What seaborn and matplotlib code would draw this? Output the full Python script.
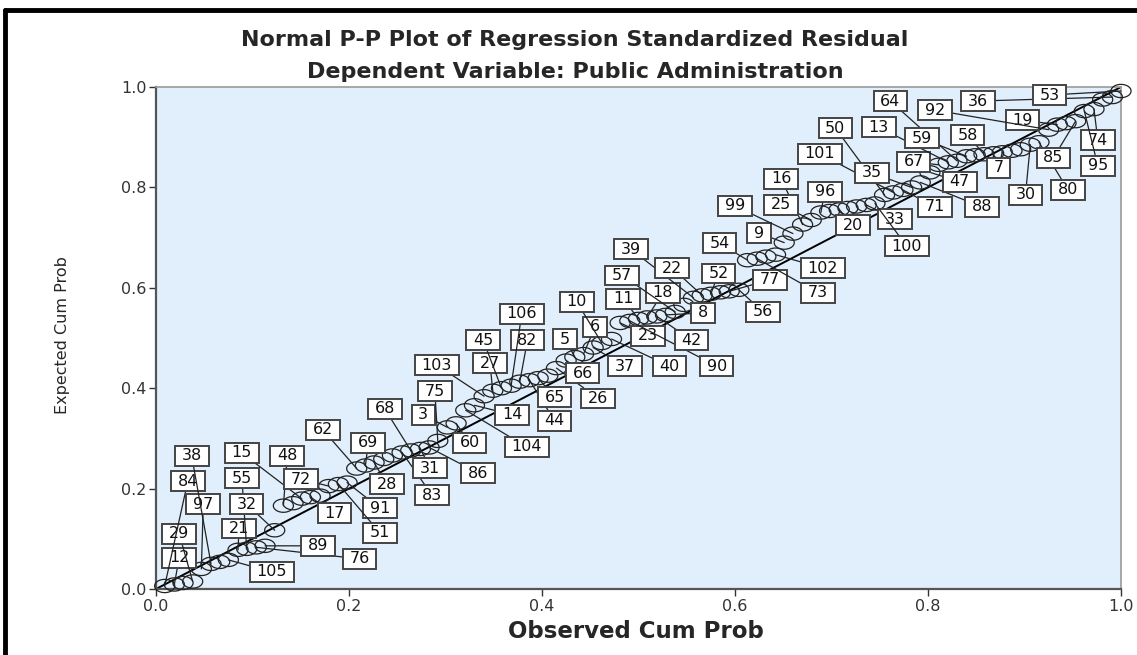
import matplotlib
matplotlib.use("Agg")
import matplotlib.pyplot as plt
import seaborn as sns
import numpy as np
from matplotlib.path import Path
from matplotlib.lines import Line2D

# observed / expected cumulative probabilities, one per case (sorted by rank)
observed = [0.009, 0.019, 0.028, 0.038, 0.047, 0.057, 0.066, 0.075, 0.085, 0.094,
            0.104, 0.113, 0.123, 0.132, 0.142, 0.151, 0.160, 0.170, 0.179, 0.189,
            0.198, 0.208, 0.217, 0.226, 0.236, 0.245, 0.255, 0.264, 0.274, 0.283,
            0.292, 0.302, 0.311, 0.321, 0.330, 0.340, 0.349, 0.358, 0.368, 0.377,
            0.387, 0.396, 0.406, 0.415, 0.425, 0.434, 0.443, 0.453, 0.462, 0.472,
            0.481, 0.491, 0.500, 0.509, 0.519, 0.528, 0.538, 0.547, 0.557, 0.566,
            0.575, 0.585, 0.594, 0.604, 0.613, 0.623, 0.632, 0.642, 0.651, 0.660,
            0.670, 0.679, 0.689, 0.698, 0.708, 0.717, 0.726, 0.736, 0.745, 0.755,
            0.764, 0.774, 0.783, 0.792, 0.802, 0.811, 0.821, 0.830, 0.840, 0.849,
            0.858, 0.868, 0.877, 0.887, 0.896, 0.906, 0.915, 0.925, 0.934, 0.943,
            0.953, 0.962, 0.972, 0.981, 0.991, 1.000]
expected = [0.006, 0.009, 0.012, 0.015, 0.040, 0.050, 0.054, 0.058, 0.078, 0.080,
            0.083, 0.086, 0.117, 0.166, 0.171, 0.180, 0.183, 0.186, 0.205, 0.209,
            0.212, 0.240, 0.246, 0.252, 0.259, 0.266, 0.272, 0.276, 0.279, 0.282,
            0.295, 0.322, 0.330, 0.356, 0.366, 0.384, 0.395, 0.400, 0.405, 0.413,
            0.416, 0.420, 0.425, 0.440, 0.455, 0.462, 0.468, 0.481, 0.490, 0.498,
            0.530, 0.534, 0.538, 0.541, 0.543, 0.546, 0.552, 0.566, 0.580, 0.585,
            0.588, 0.591, 0.593, 0.596, 0.655, 0.658, 0.662, 0.666, 0.690, 0.708,
            0.726, 0.735, 0.750, 0.753, 0.756, 0.759, 0.762, 0.765, 0.768, 0.785,
            0.790, 0.795, 0.800, 0.810, 0.830, 0.845, 0.850, 0.853, 0.862, 0.864,
            0.866, 0.868, 0.870, 0.873, 0.876, 0.885, 0.890, 0.915, 0.925, 0.928,
            0.932, 0.952, 0.956, 0.975, 0.980, 0.992]

# case labels and the rank of the point each one refers to
label_cases = [12, 29, 84, 97, 38, 105, 21, 55, 76, 89, 32, 15, 48, 72, 17, 91, 51,
               62, 69, 28, 83, 68, 31, 86, 3, 60, 75, 104, 14, 103, 27, 45, 82, 44,
               65, 106, 26, 66, 5, 6, 37, 10, 40, 23, 11, 90, 42, 8, 18, 57, 39, 22,
               52, 77, 56, 54, 73, 102, 9, 99, 16, 25, 96, 20, 33, 100, 71, 101, 50,
               35, 88, 47, 67, 13, 64, 59, 7, 58, 30, 80, 19, 92, 85, 74, 95, 36, 53]
label_ranks = [2, 4, 1, 5, 6, 8, 9, 10, 11, 12, 13, 16, 14, 19, 17, 21, 20,
               22, 23, 24, 27, 28, 29, 30, 32, 33, 31, 34, 35, 36, 37, 38, 40, 41,
               42, 39, 44, 45, 46, 47, 48, 49, 50, 51, 53, 52, 55, 56, 54, 57, 59, 60,
               61, 63, 64, 65, 66, 68, 69, 70, 71, 72, 73, 75, 78, 79, 82, 81, 80,
               83, 84, 85, 86, 87, 88, 89, 93, 91, 96, 97, 99, 98, 101, 103, 102, 105, 106]
# where the label boxes sit (data units)
label_x = [0.024, 0.024, 0.033, 0.049, 0.037, 0.120, 0.086, 0.089, 0.211, 0.168, 0.094,
           0.089, 0.136, 0.150, 0.185, 0.232, 0.232, 0.173, 0.220, 0.239, 0.286, 0.237,
           0.284, 0.334, 0.277, 0.325, 0.289, 0.384, 0.369, 0.291, 0.346, 0.339, 0.385,
           0.413, 0.413, 0.379, 0.458, 0.442, 0.424, 0.455, 0.486, 0.436, 0.532, 0.510,
           0.484, 0.581, 0.555, 0.567, 0.525, 0.483, 0.492, 0.535, 0.583, 0.636, 0.629,
           0.584, 0.686, 0.691, 0.625, 0.600, 0.648, 0.648, 0.693, 0.722, 0.766, 0.778,
           0.807, 0.688, 0.704, 0.742, 0.856, 0.833, 0.785, 0.749, 0.761, 0.794, 0.873,
           0.841, 0.901, 0.945, 0.898, 0.807, 0.930, 0.976, 0.976, 0.852, 0.926]
label_y = [0.062, 0.110, 0.215, 0.169, 0.265, 0.034, 0.120, 0.221, 0.060, 0.086, 0.169,
           0.271, 0.265, 0.219, 0.151, 0.161, 0.112, 0.317, 0.291, 0.209, 0.187, 0.359,
           0.241, 0.231, 0.347, 0.291, 0.394, 0.283, 0.347, 0.446, 0.450, 0.496, 0.496,
           0.335, 0.382, 0.548, 0.380, 0.430, 0.498, 0.522, 0.444, 0.572, 0.444, 0.504,
           0.578, 0.444, 0.496, 0.550, 0.590, 0.625, 0.677, 0.639, 0.629, 0.616, 0.552,
           0.689, 0.590, 0.639, 0.709, 0.763, 0.817, 0.765, 0.791, 0.725, 0.737, 0.683,
           0.761, 0.867, 0.918, 0.829, 0.761, 0.811, 0.851, 0.920, 0.972, 0.898, 0.839,
           0.904, 0.785, 0.795, 0.934, 0.954, 0.859, 0.894, 0.843, 0.972, 0.984]

ticks = [0.0, 0.2, 0.4, 0.6, 0.8, 1.0]
tick_labels = ["0.0", "0.2", "0.4", "0.6", "0.8", "1.0"]

W, H = 1137, 655
sns.set_style("white")
plt.rcParams["font.family"] = ["DejaVu Sans"]

fig = plt.figure(figsize=(W / 100, H / 100), dpi=100)
ax = fig.add_axes([156 / W, 1 - 589 / H, 965 / W, 502 / H])
ax.set_facecolor("#e1eefb")

# SPSS-style stretched circle
t = np.linspace(0, 2 * np.pi, 40)
ellipse = Path(np.column_stack([np.cos(t), 0.66 * np.sin(t)]), closed=True)

ax.axline((0, 0), (1, 1), color="black", lw=1.4, zorder=2)
sns.scatterplot(x=observed, y=expected, marker=ellipse, s=210, facecolor="none",
                edgecolor="#222222", linewidth=0.9, ax=ax, zorder=3, clip_on=False)


def label_box(x0, y0, width, height, mutation_size):
    hp = 0.42 * mutation_size
    vp = 0.14 * mutation_size
    x0, y0 = x0 - hp, y0 - vp
    x1, y1 = x0 + width + 2 * hp, y0 + height + 2 * vp
    return Path([(x0, y0), (x1, y0), (x1, y1), (x0, y1), (x0, y0)], closed=True)


for case, rank, bx, by in zip(label_cases, label_ranks, label_x, label_y):
    ax.annotate(str(case), xy=(observed[rank - 1], expected[rank - 1]),
                xytext=(bx, by), ha="center", va="center", fontsize=11.5,
                color="#111111", zorder=5,
                bbox=dict(boxstyle=label_box, fc="white", ec="#444444", lw=1.4),
                arrowprops=dict(arrowstyle="-", color="#222222", lw=0.9,
                                shrinkA=0, shrinkB=0))

ax.set_xlim(0, 1)
ax.set_ylim(0, 1)
ax.set_xticks(ticks)
ax.set_xticklabels(tick_labels)
ax.set_yticks(ticks)
ax.set_yticklabels(tick_labels)
ax.tick_params(direction="out", length=5, width=1, colors="#333333",
               labelsize=11.5, pad=2, left=True, bottom=True)
ax.set_xlabel("")
ax.set_ylabel("")
for side in ["left", "bottom"]:
    ax.spines[side].set_color("#555555")
    ax.spines[side].set_linewidth(1.6)
for side in ["top", "right"]:
    ax.spines[side].set_color("#9a9a9a")
    ax.spines[side].set_linewidth(1.2)

fig.text(575 / W, 1 - 40 / H, "Normal P-P Plot of Regression Standardized Residual",
         ha="center", va="center", fontsize=16, fontweight="bold")
fig.text(575 / W, 1 - 72 / H, "Dependent Variable: Public Administration",
         ha="center", va="center", fontsize=16, fontweight="bold")
fig.text(636 / W, 1 - 632 / H, "Observed Cum Prob", ha="center", va="center",
         fontsize=16.5, fontweight="bold")
fig.text(62 / W, 1 - 335 / H, "Expected Cum Prob", ha="center", va="center",
         fontsize=11.5, rotation=90)

# black frame at the top-left of the capture
fig.add_artist(Line2D([5 / W, 5 / W], [0, 1 - 10 / H], transform=fig.transFigure,
                      color="black", lw=3.5))
fig.add_artist(Line2D([5 / W, 1], [1 - 10 / H, 1 - 10 / H], transform=fig.transFigure,
                      color="black", lw=3.5))

fig.savefig("out.png", dpi=100)
